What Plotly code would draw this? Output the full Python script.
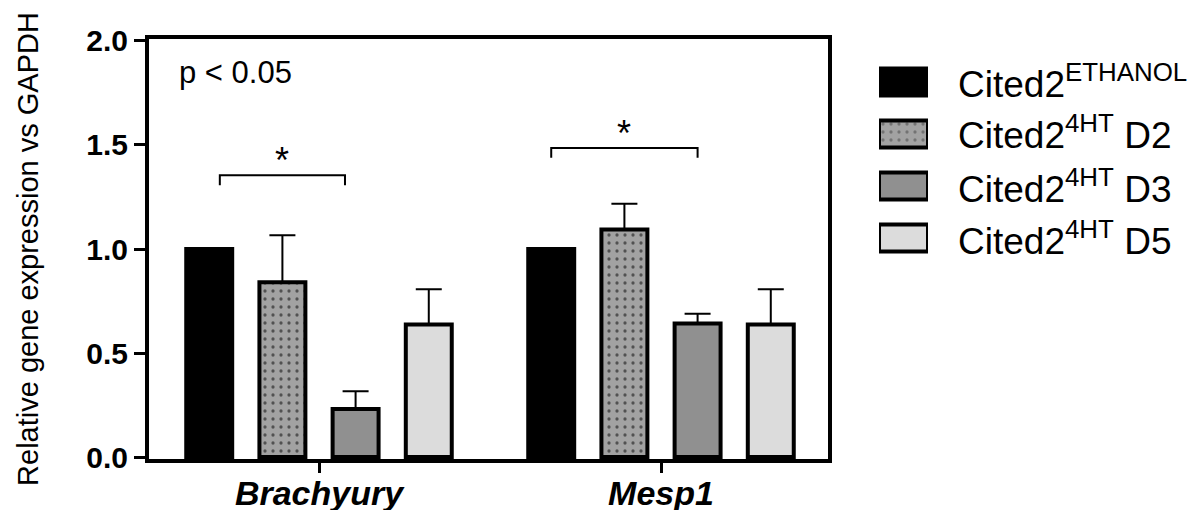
import plotly.graph_objects as go

# ---------------- data ----------------
categories = ["Brachyury", "Mesp1"]
series_names = [
    "Cited2<sup>ETHANOL</sup>",
    "Cited2<sup>4HT</sup> D2",
    "Cited2<sup>4HT</sup> D3",
    "Cited2<sup>4HT</sup> D5",
]
ethanol_vals = [1.0, 1.0]
d2_vals = [0.84, 1.094]
d2_err = [0.226, 0.123]
d3_vals = [0.231, 0.642]
d3_err = [0.085, 0.047]
d5_vals = [0.637, 0.637]
d5_err = [0.17, 0.17]
y_ticks = [0.0, 0.5, 1.0, 1.5, 2.0]
# significance brackets: (category index, series a, series b, height, inset)
brackets = [(0, 0, 2, 1.354, 0.031), (1, 0, 2, 1.486, 0.0)]
p_text = "p < 0.05"
y_title = "Relative gene expression vs GAPDH"

# ---------------- style ----------------
W, H = 1198, 510
FONT = "Arial, Liberation Sans, sans-serif"
fills = ["#000000", "#a2a2a2", "#909090", "#dcdcdc"]
patterns = ["", ".", "", ""]
BARGAP = 0.144
GROUPGAP = 0.372
NS = len(series_names)


def px(x):
    return x / W


def py(y):
    return 1 - y / H


values = [ethanol_vals, d2_vals, d3_vals, d5_vals]
errors = [None, d2_err, d3_err, d5_err]

fig = go.Figure()
for i in range(NS):
    marker = dict(color=fills[i], line=dict(color="black", width=4))
    if patterns[i]:
        marker["pattern"] = dict(shape=patterns[i], fgcolor="black",
                                 bgcolor=fills[i], size=8, solidity=0.13)
    kw = {}
    if errors[i] is not None:
        kw["error_y"] = dict(type="data", array=errors[i],
                             arrayminus=[0] * len(errors[i]), symmetric=False,
                             color="black", thickness=2, width=13)
    fig.add_trace(go.Bar(x=list(range(len(categories))), y=values[i],
                         name=series_names[i], marker=marker,
                         showlegend=False, hoverinfo="skip", **kw))

# legend swatches drawn as bars on a hidden helper axis
fig.add_trace(go.Bar(
    x=[1] * NS, y=list(range(NS)), orientation="h", base=0, width=0.52,
    xaxis="x2", yaxis="y2", showlegend=False, hoverinfo="skip",
    marker=dict(color=fills, line=dict(color="black", width=4),
                pattern=dict(shape=patterns, fgcolor="black", bgcolor=fills,
                             size=8, solidity=0.13)),
))

# ---------------- significance brackets ----------------
slot = (1 - BARGAP) / NS


def bar_center(cat, s):
    return cat - (1 - BARGAP) / 2 + slot * (s + 0.5)


leg = 0.047
for cat, a, b, yb, inset in brackets:
    x0 = bar_center(cat, a) + inset
    x1 = bar_center(cat, b) - inset
    fig.add_shape(type="path", xref="x", yref="y",
                  path=f"M {x0} {yb - leg} L {x0} {yb} L {x1} {yb} L {x1} {yb - leg}",
                  line=dict(color="black", width=2))
    fig.add_annotation(x=(x0 + x1) / 2, y=yb + 0.07, xref="x", yref="y",
                       text="*", showarrow=False, xanchor="center",
                       yanchor="middle", font=dict(family=FONT, size=36, color="black"))

fig.add_annotation(x=px(177), y=py(73), xref="paper", yref="paper",
                   text=p_text, showarrow=False, xanchor="left", yanchor="middle",
                   font=dict(family=FONT, size=31, color="black"))

# legend text
row_y = [81, 133, 186, 238]
for i, name in enumerate(series_names):
    fig.add_annotation(x=px(956), y=py(row_y[i]), xref="paper", yref="paper",
                       text=name, showarrow=False, xanchor="left",
                       yanchor="middle",
                       font=dict(family=FONT, size=37, color="black"))

fig.update_layout(
    width=W, height=H,
    margin=dict(l=0, r=0, t=0, b=0, pad=0),
    paper_bgcolor="white", plot_bgcolor="white",
    barmode="group", bargap=BARGAP, bargroupgap=GROUPGAP,
    showlegend=False,
    font=dict(family=FONT, color="black"),
    xaxis=dict(
        domain=[px(149), px(828)],
        range=[(149 - 319) / 342, (828 - 319) / 342],
        tickmode="array", tickvals=list(range(len(categories))),
        ticktext=categories,
        tickfont=dict(family=FONT, size=34, weight="bold", style="italic",
                      color="black"),
        ticks="outside", ticklen=10, tickwidth=3, tickcolor="black",
        ticklabelstandoff=-9,
        showline=True, linewidth=4, linecolor="black", mirror=True,
        showgrid=False, zeroline=False, automargin=False, fixedrange=True,
    ),
    yaxis=dict(
        domain=[py(459), py(39)],
        range=[-2 / 212, 2 + 2 / 212],
        tickmode="array", tickvals=y_ticks,
        ticktext=[f"{v:.1f}" for v in y_ticks],
        tickfont=dict(family=FONT, size=30, weight="bold", color="black"),
        ticks="outside", ticklen=11, tickwidth=3, tickcolor="black",
        showline=True, linewidth=4, linecolor="black", mirror=True,
        showgrid=False, zeroline=False, automargin=False, fixedrange=True,
        title=dict(text=y_title, font=dict(family=FONT, size=29, color="black"),
                   standoff=40),
    ),
    xaxis2=dict(domain=[px(879), px(928)], range=[0, 1], visible=False,
                anchor="y2", fixedrange=True),
    yaxis2=dict(domain=[py(264), py(56)], range=[NS - 0.5, -0.5],
                visible=False, anchor="x2", fixedrange=True),
)

fig.write_html("out.html", config={"displayModeBar": False, "staticPlot": True})
